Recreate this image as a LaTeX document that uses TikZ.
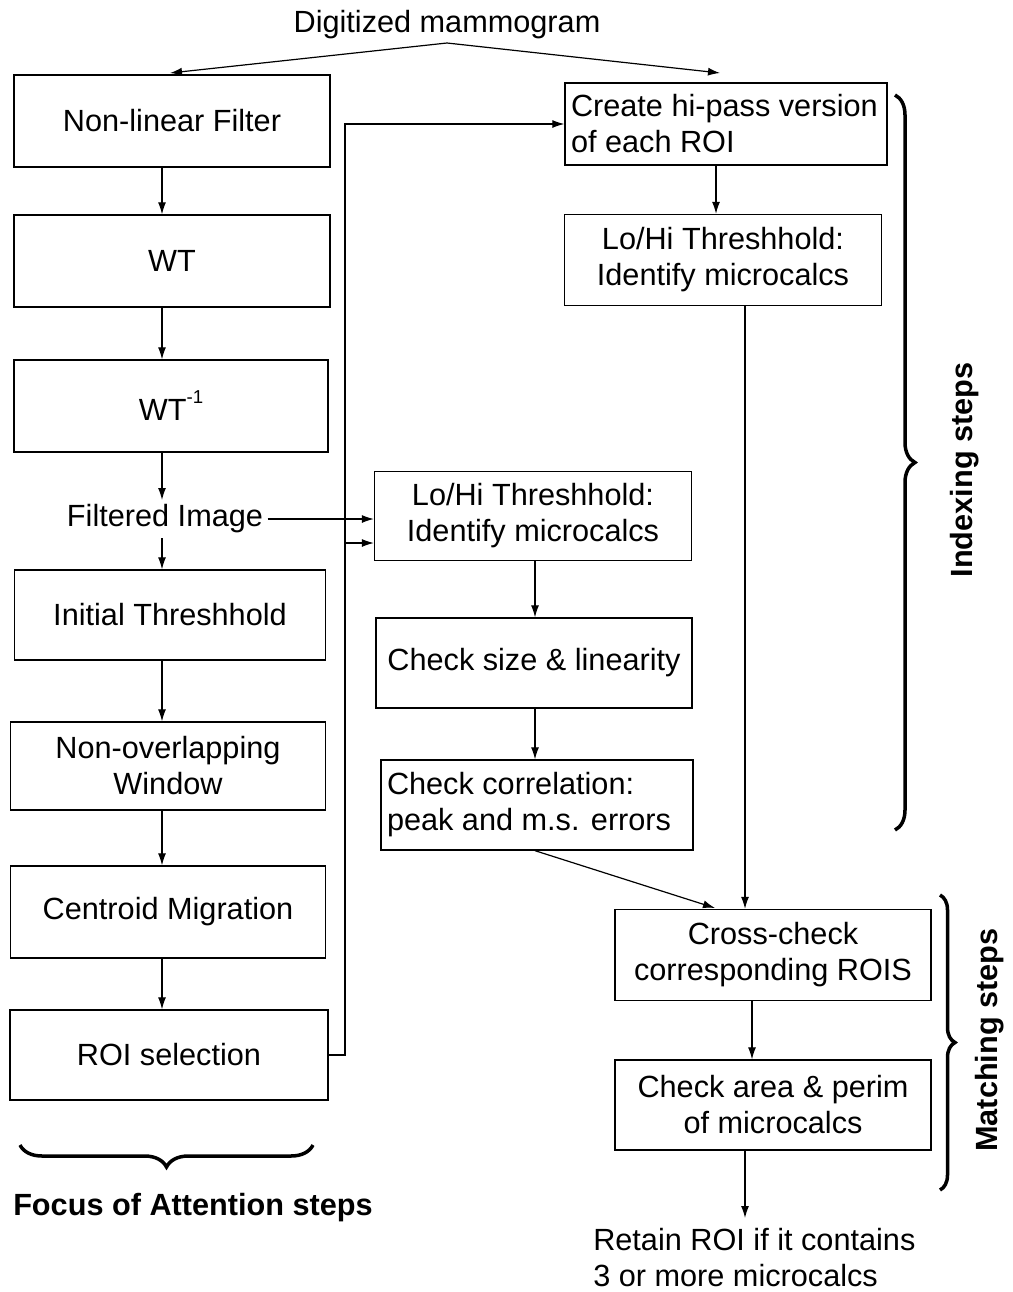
\documentclass[tikz,border=0pt]{standalone}
\usepackage{fontspec}
\setmainfont{Liberation Sans}
\usetikzlibrary{arrows.meta,decorations.pathreplacing}
\newcommand\pxu{*0.75pt}
\begin{document}
\begin{tikzpicture}[x=0.75pt,y=-0.75pt,
  font=\fontsize{23}{27}\selectfont,
  box/.style={draw,line width=1pt,inner sep=0pt,align=center},
  lbox/.style={draw,line width=1pt,inner xsep=6\pxu,inner ysep=0pt,align=flush left},
  arr/.style={line width=0.9pt,-{Latex[length=12\pxu,width=8\pxu]}},
  brc/.style={decorate,decoration={brace,amplitude=#1},line width=3.5\pxu},
  lab/.style={font=\fontsize{23}{27}\selectfont\bfseries}]
\useasboundingbox (0,0) rectangle (1013,1292);
% title
\node (dm) at (447,25) {Digitized mammogram};
\coordinate (apex) at (447,43);
% left column
\node[box,minimum width=316\pxu,minimum height=92\pxu] (nlf) at (172,121) {Non-linear Filter};
\node[box,minimum width=316\pxu,minimum height=92\pxu] (wt) at (172,261) {WT};
\node[box,minimum width=314\pxu,minimum height=92\pxu] (wti) at (171,406) {WT\raisebox{0.55em}{\fontsize{14}{14}\selectfont -1}};
\node (fi) at (165,519) {Filtered Image};
\node[box,minimum width=311\pxu,minimum height=90\pxu] (init) at (170,615) {Initial Threshhold};
\node[box,minimum width=315\pxu,minimum height=88\pxu] (now) at (168,766) {Non-overlapping\\Window};
\node[box,minimum width=315\pxu,minimum height=92\pxu] (cm) at (168,912) {Centroid Migration};
\node[box,minimum width=318\pxu,minimum height=90\pxu] (roi) at (169,1055) {ROI selection};
% right column
\node[lbox,text width=310\pxu,minimum height=82\pxu] (hp) at (726,124) {Create hi-pass version\\of each ROI};
\node[box,minimum width=317\pxu,minimum height=91\pxu] (lh1) at (723,260) {Lo/Hi Threshhold:\\Identify microcalcs};
% middle column
\node[box,minimum width=317\pxu,minimum height=89\pxu] (lh2) at (533,516) {Lo/Hi Threshhold:\\Identify microcalcs};
\node[box,minimum width=316\pxu,minimum height=90\pxu] (sz) at (534,663) {Check size \& linearity};
\node[lbox,text width=300\pxu,minimum height=90\pxu] (corr) at (537,805) {Check correlation:\\peak and m.s. errors};
% matching
\node[box,minimum width=316\pxu,minimum height=91\pxu] (cc) at (773,955) {Cross-check\\corresponding ROIS};
\node[box,minimum width=316\pxu,minimum height=90\pxu] (ar) at (773,1105) {Check area \& perim\\of microcalcs};
\node[anchor=west,align=left,inner sep=0pt] (ret) at (593,1258) {Retain ROI if it contains\\3 or more microcalcs};
% helper coordinates
\coordinate (c162) at (162,0);
\coordinate (c716) at (716,0);
\coordinate (c745) at (745,0);
\coordinate (c752) at (752,0);
\coordinate (c535) at (535,0);
\coordinate (bus) at (345,0);
\coordinate (br) at (345,543);
\coordinate (ccin) at (715,908);
\coordinate (retin) at (745,1218);
% connectors
\draw[arr] (apex) -- (170,73);
\draw[arr] (apex) -- (720,73);
\draw[arr] (nlf.south -| c162) -- (wt.north -| c162);
\draw[arr] (wt.south -| c162) -- (wti.north -| c162);
\draw[arr] (wti.south -| c162) -- (fi.north -| c162);
\draw[arr] (fi.south -| c162) -- (init.north -| c162);
\draw[arr] (init.south -| c162) -- (now.north -| c162);
\draw[arr] (now.south -| c162) -- (cm.north -| c162);
\draw[arr] (cm.south -| c162) -- (roi.north -| c162);
\draw[arr] (fi.east) -- (fi.east -| lh2.west);
\draw[arr] (roi.east) -- (roi.east -| bus) -- (bus |- hp.west) -- (hp.west);
\draw[arr] (br) -- (br -| lh2.west);
\draw[arr] (hp.south -| c716) -- (lh1.north -| c716);
\draw[arr] (lh1.south -| c745) -- (cc.north -| c745);
\draw[arr] (lh2.south -| c535) -- (sz.north -| c535);
\draw[arr] (sz.south -| c535) -- (corr.north -| c535);
\draw[arr] (corr.south -| c535) -- (ccin);
\draw[arr] (cc.south -| c752) -- (ar.north -| c752);
\draw[arr] (ar.south -| c745) -- (retin);
% braces
\draw[brc=20\pxu] (895,95) -- (895,830);
\node[lab,rotate=90] (ix) at (965,470) {Indexing steps};
\draw[brc=15\pxu] (940,895) -- (940,1190);
\node[lab,rotate=90] (ms) at (990,1040) {Matching steps};
\draw[brc=22\pxu] (313,1145) -- (20,1145);
\node[lab] (fa) at (193,1208) {Focus of Attention steps};
\end{tikzpicture}
\end{document}
